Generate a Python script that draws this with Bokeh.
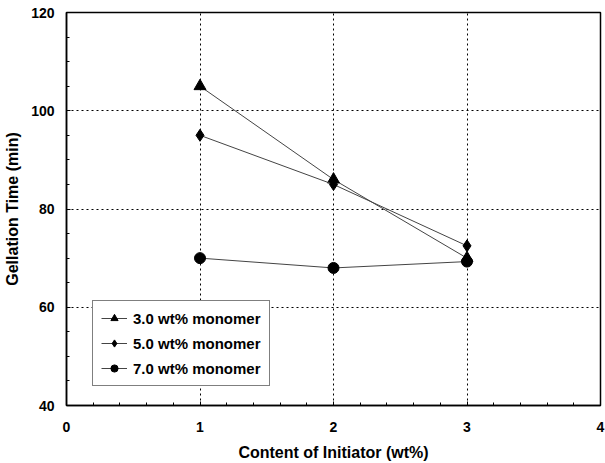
from bokeh.plotting import figure
from bokeh.models import Range1d, SingleIntervalTicker, Legend, LegendItem
from bokeh.embed import file_html
from bokeh.resources import INLINE

# Initiator content (wt%)
initiator = [1, 2, 3]
# Gelation time (min) for each monomer content
gel_3wt = [105, 86, 70]
gel_5wt = [95, 85, 72.5]
gel_7wt = [70, 68, 69.3]

series_labels = ["3.0 wt% monomer", "5.0 wt% monomer", "7.0 wt% monomer"]

FONT = "Liberation Sans"

p = figure(width=605, height=463, output_backend="svg", toolbar_location=None,
           x_range=Range1d(0, 4), y_range=Range1d(40, 120),
           min_border_left=66, min_border_right=5, min_border_top=12, min_border_bottom=58)
p.background_fill_color = "white"
p.border_fill_color = "white"
p.outline_line_color = "black"
p.outline_line_width = 1.5

p.xaxis.ticker = SingleIntervalTicker(interval=1, num_minor_ticks=5)
p.yaxis.ticker = SingleIntervalTicker(interval=20, num_minor_ticks=4)

for ax in (p.xaxis[0], p.yaxis[0]):
    ax.axis_line_color = "black"
    ax.axis_line_width = 1.5
    ax.major_tick_in = 4
    ax.major_tick_out = 0
    ax.minor_tick_in = 3
    ax.minor_tick_out = 0
    ax.major_tick_line_color = "black"
    ax.minor_tick_line_color = "black"
    ax.major_label_text_font = FONT
    ax.major_label_text_font_style = "bold"
    ax.major_label_text_font_size = "14px"
    ax.major_label_text_color = "black"
    ax.axis_label_text_font = FONT
    ax.axis_label_text_font_style = "bold"
    ax.axis_label_text_font_size = "16px"
    ax.axis_label_text_color = "black"

p.xaxis.axis_label = "Content of Initiator (wt%)"
p.yaxis.axis_label = "Gellation Time (min)"
p.xaxis.major_label_standoff = 16
p.yaxis.major_label_standoff = 12
p.xaxis.axis_label_standoff = 9
p.yaxis.axis_label_standoff = 7

for g in (p.xgrid[0], p.ygrid[0]):
    g.grid_line_color = "black"
    g.grid_line_dash = "2 3"
    g.grid_line_width = 1

line_kw = dict(line_color="#444444", line_width=1)

l1 = p.line(initiator, gel_3wt, **line_kw)
m1 = p.scatter(initiator, gel_3wt, marker="triangle", size=12, color="black")
l2 = p.line(initiator, gel_5wt, **line_kw)
m2 = p.scatter(initiator, gel_5wt, marker="diamond", size=12, color="black")
l3 = p.line(initiator, gel_7wt, **line_kw)
m3 = p.scatter(initiator, gel_7wt, marker="circle", size=11, color="black")

legend = Legend(items=[
    LegendItem(label=series_labels[0], renderers=[l1, m1]),
    LegendItem(label=series_labels[1], renderers=[l2, m2]),
    LegendItem(label=series_labels[2], renderers=[l3, m3]),
], location=(26, 19))
legend.label_text_font = FONT
legend.label_text_font_style = "bold"
legend.label_text_font_size = "15px"
legend.label_text_color = "black"
legend.border_line_color = "black"
legend.border_line_width = 1
legend.background_fill_alpha = 1
legend.glyph_width = 26
legend.glyph_height = 18
legend.label_height = 18
legend.label_standoff = 6
legend.spacing = 7
legend.padding = 8
legend.margin = 0
p.add_layout(legend, "center")

open("out.html", "w").write(file_html(p, INLINE))
